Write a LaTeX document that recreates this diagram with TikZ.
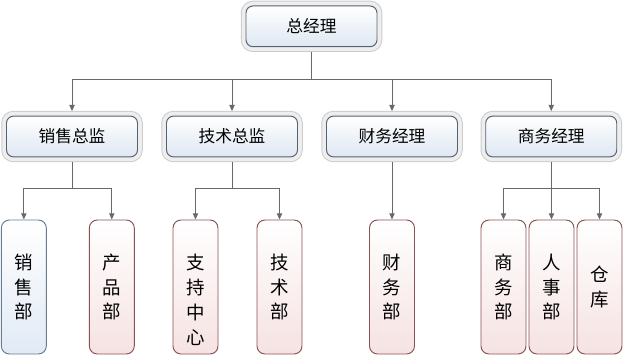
\documentclass[tikz,border=0pt]{standalone}
\usepackage{fontspec}
\setmainfont{Noto Sans CJK SC}
\usepackage{xcolor}
\usepackage{tikz}
\usetikzlibrary{positioning, arrows.meta}

\definecolor{frameline}{RGB}{204,204,204}
\definecolor{framefill}{RGB}{238,238,238}
\definecolor{mgrline}{RGB}{85,98,112}
\definecolor{mgrfill}{RGB}{222,231,242}
\definecolor{blueline}{RGB}{105,124,145}
\definecolor{bluefill}{RGB}{225,234,245}
\definecolor{redline}{RGB}{138,82,82}
\definecolor{redfill}{RGB}{246,226,226}
\definecolor{linkgray}{RGB}{105,105,105}

\begin{document}
\begin{tikzpicture}[
  mgr/.style={draw=mgrline, line width=1.1pt, rounded corners=0.28cm, top color=white, bottom color=mgrfill,
    minimum width=5.24cm, minimum height=1.63cm, outer sep=0.2cm, font=\fontsize{19}{23}\selectfont,
    preaction={draw=frameline, line width=0.42cm}, preaction={draw=framefill, line width=0.34cm}},
  dept/.style={line width=1.1pt, rounded corners=0.32cm, minimum width=1.8cm, minimum height=5.36cm,
    inner sep=0pt, align=center, font=\fontsize{21}{28.35}\selectfont},
  bluedept/.style={dept, draw=blueline, top color=white, bottom color=bluefill},
  reddept/.style={dept, draw=redline, top color=white, bottom color=redfill},
  link/.style={draw=linkgray, line width=1.1pt, -{Triangle[length=7pt,width=6pt]}}
]
\useasboundingbox (0,0) rectangle (25,-14.28);

\node[mgr] (gm) at (12.46,-1.054) {总经理};

\node[mgr] (salesdir) at (2.88,-5.46) {销售总监};
\node[mgr] (techdir) at (9.28,-5.46) {技术总监};
\node[mgr] (findir) at (15.68,-5.46) {财务经理};
\node[mgr] (bizdir) at (22.05,-5.46) {商务经理};

\node[bluedept] (salesdept) at (0.954,-11.48) {销\\售\\部};
\node[reddept] (productdept) at (4.472,-11.48) {产\\品\\部};
\node[reddept] (support) at (7.82,-11.48) {\rule{0pt}{1.65cm}支\\持\\中\\心};
\node[reddept] (techdept) at (11.18,-11.48) {技\\术\\部};
\node[reddept] (findept) at (15.68,-11.48) {财\\务\\部};
\node[reddept] (bizdept) at (20.14,-11.48) {商\\务\\部};
\node[reddept] (hrdept) at (22.06,-11.48) {人\\事\\部};
\node[reddept] (store) at (23.98,-11.48) {仓\\库};

\coordinate (busgm) at (12.46,-3.16);
\coordinate (bussales) at (2.88,-7.52);
\coordinate (bustech) at (9.28,-7.52);
\coordinate (busbiz) at (22.05,-7.52);

\draw[link] (gm) -- (busgm) -| (salesdir);
\draw[link] (gm) -- (busgm) -| (techdir);
\draw[link] (gm) -- (busgm) -| (findir);
\draw[link] (gm) -- (busgm) -| (bizdir);

\draw[link] (salesdir) -- (bussales) -| (salesdept);
\draw[link] (salesdir) -- (bussales) -| (productdept);
\draw[link] (techdir) -- (bustech) -| (support);
\draw[link] (techdir) -- (bustech) -| (techdept);
\draw[link] (findir) -- (findept);
\draw[link] (bizdir) -- (busbiz) -| (bizdept);
\draw[link] (bizdir) -- (busbiz) -| (hrdept);
\draw[link] (bizdir) -- (busbiz) -| (store);

\end{tikzpicture}
\end{document}
